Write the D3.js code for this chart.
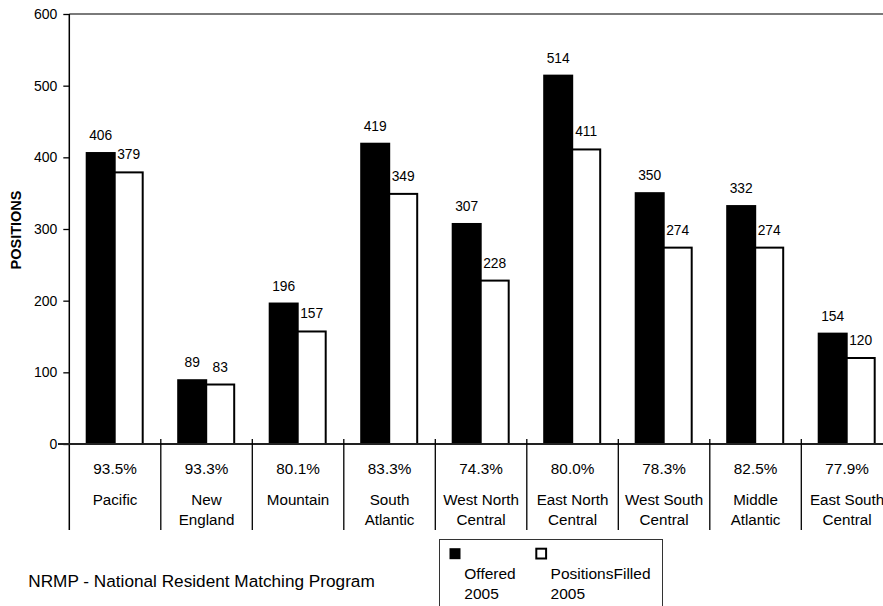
<!DOCTYPE html>
<html>
<head>
<meta charset="utf-8">
<script src="https://cdn.jsdelivr.net/npm/d3@7"></script>
<style>
  html, body { margin: 0; padding: 0; background: #fff; }
  svg { display: block; font-family: "Liberation Sans", Arial, Helvetica, sans-serif; }
</style>
</head>
<body>
<svg id="chart" width="883" height="606"></svg>
<script>
// Residency positions by census region, 2005
const categories = ["Pacific", "New England", "Mountain", "South Atlantic", "West North Central",
  "East North Central", "West South Central", "Middle Atlantic", "East South Central"];
const categoryLines = [["Pacific"], ["New", "England"], ["Mountain"], ["South", "Atlantic"],
  ["West North", "Central"], ["East North", "Central"], ["West South", "Central"],
  ["Middle", "Atlantic"], ["East South", "Central"]];
const offered2005 = [406, 89, 196, 419, 307, 514, 350, 332, 154];
const filled2005 = [379, 83, 157, 349, 228, 411, 274, 274, 120];
const fillRates = ["93.5%", "93.3%", "80.1%", "83.3%", "74.3%", "80.0%", "78.3%", "82.5%", "77.9%"];
const seriesNames = ["Offered 2005", "PositionsFilled 2005"];
const seriesKeys = ["offered", "filled"];
const yTicks = [0, 100, 200, 300, 400, 500, 600];

const rows = categories.map((c, i) => ({ category: c, offered: offered2005[i], filled: filled2005[i] }));

const svg = d3.select("#chart");
const W = 883;
const plotLeft = 69.3, step = 91.5;
const plotTop = 14, zeroY = 444;

const x = d3.scaleBand()
  .domain(categories)
  .range([plotLeft, plotLeft + step * categories.length])
  .padding(0);

// the two bars of a region sit side by side in the middle of its slot
const xs = d3.scaleBand()
  .domain(seriesKeys)
  .range([17.4, 17.4 + 56])
  .padding(0);

const y = d3.scaleLinear().domain([0, 600]).range([zeroY, plotTop]);

// top frame line
svg.append("line")
  .attr("x1", plotLeft).attr("x2", W)
  .attr("y1", y(600)).attr("y2", y(600))
  .attr("stroke", "#7a7a7a").attr("stroke-width", 2);

// y axis
const yAxis = d3.axisLeft(y).tickValues(yTicks).tickSize(6).tickPadding(6).tickFormat(d3.format("d"));
const gy = svg.append("g").attr("transform", `translate(${plotLeft},0)`).call(yAxis);
gy.select(".domain").remove();
gy.selectAll(".tick line").attr("stroke", "#000").attr("stroke-width", 1.3);
gy.selectAll(".tick text")
  .attr("font-size", 14).attr("fill", "#000")
  .attr("font-family", "'Liberation Sans', Arial, sans-serif");
svg.append("line")
  .attr("x1", plotLeft).attr("x2", plotLeft)
  .attr("y1", y(600)).attr("y2", 530)
  .attr("stroke", "#000").attr("stroke-width", 1.5);

// bars
const groups = svg.append("g").selectAll("g")
  .data(rows).join("g")
  .attr("transform", d => `translate(${x(d.category)},0)`);

groups.selectAll("rect")
  .data(d => seriesKeys.map(k => ({ key: k, value: d[k] })))
  .join("rect")
  .attr("x", d => xs(d.key))
  .attr("width", xs.bandwidth())
  .attr("y", d => y(d.value))
  .attr("height", d => zeroY - y(d.value))
  .attr("fill", d => d.key === "offered" ? "#000" : "#fff")
  .attr("stroke", "#000").attr("stroke-width", 2);

// value labels above bars
groups.selectAll("text.val")
  .data(d => seriesKeys.map(k => ({ key: k, value: d[k] })))
  .join("text").attr("class", "val")
  .attr("x", d => xs(d.key) + xs.bandwidth() / 2)
  .attr("y", d => y(d.value) - 13)
  .attr("text-anchor", "middle")
  .attr("font-size", 13.8)
  .text(d => d.value);

// zero line and category table
svg.append("line")
  .attr("x1", 58).attr("x2", W)
  .attr("y1", zeroY).attr("y2", zeroY)
  .attr("stroke", "#222").attr("stroke-width", 2);

const bounds = categories.map(c => x(c) + x.bandwidth()).filter(v => v < W);
svg.append("g").selectAll("line")
  .data(bounds).join("line")
  .attr("x1", d => d).attr("x2", d => d)
  .attr("y1", zeroY - 5).attr("y2", 530)
  .attr("stroke", "#000").attr("stroke-width", 1.3);

const cells = svg.append("g").selectAll("g")
  .data(rows).join("g")
  .attr("transform", d => `translate(${x(d.category) + x.bandwidth() / 2},0)`);

cells.append("text")
  .attr("y", 474).attr("text-anchor", "middle").attr("font-size", 15.3)
  .text((d, i) => fillRates[i]);

cells.each(function (d, i) {
  const g = d3.select(this);
  categoryLines[i].forEach((line, j) => {
    g.append("text")
      .attr("y", 505 + j * 20).attr("text-anchor", "middle").attr("font-size", 15.2)
      .text(line);
  });
});

// y axis title
svg.append("text")
  .attr("transform", "translate(21,230) rotate(-90)")
  .attr("text-anchor", "middle")
  .attr("font-size", 14.5).attr("font-weight", "bold")
  .text("POSITIONS");

// source note
svg.append("text")
  .attr("x", 28.3).attr("y", 587)
  .attr("font-size", 17.2)
  .text("NRMP - National Resident Matching Program");

// legend
const legend = svg.append("g");
legend.append("rect")
  .attr("x", 439.5).attr("y", 539.5).attr("width", 223).attr("height", 80)
  .attr("fill", "#fff").attr("stroke", "#333").attr("stroke-width", 1);

const legendX = [449, 535.3];
const items = legend.selectAll("g.item")
  .data(seriesKeys).join("g").attr("class", "item")
  .attr("transform", (d, i) => `translate(${legendX[i]},0)`);

items.append("rect")
  .attr("x", d => d === "offered" ? 0.5 : 1)
  .attr("y", d => d === "offered" ? 548.2 : 548.7)
  .attr("width", d => d === "offered" ? 11 : 9.8)
  .attr("height", d => d === "offered" ? 11 : 9.8)
  .attr("fill", d => d === "offered" ? "#000" : "#fff")
  .attr("stroke", "#000").attr("stroke-width", d => d === "offered" ? 0 : 2);

items.each(function (d, i) {
  const parts = seriesNames[i].split(" ");
  const g = d3.select(this);
  parts.forEach((p, j) => {
    g.append("text")
      .attr("x", 15.3).attr("y", 579 + j * 20)
      .attr("font-size", 15.5)
      .text(p);
  });
});
</script>
</body>
</html>
